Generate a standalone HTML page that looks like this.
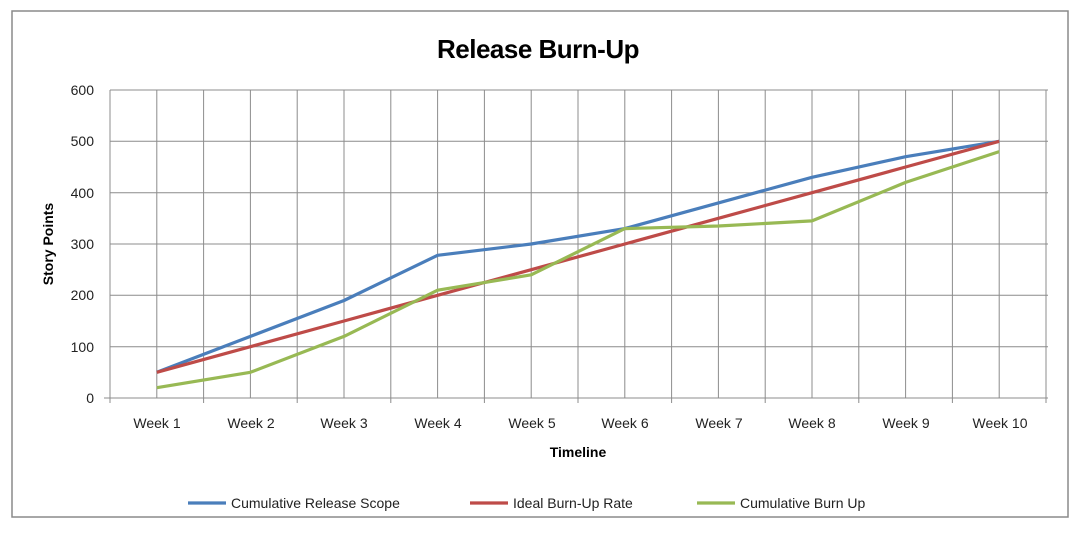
<!DOCTYPE html>
<html><head><meta charset="utf-8"><style>
html,body{margin:0;padding:0;background:#fff;}
svg{display:block;font-family:"Liberation Sans","DejaVu Sans",sans-serif;}
</style></head><body>
<svg width="1076" height="539" viewBox="0 0 1076 539" xmlns="http://www.w3.org/2000/svg">
<rect x="0" y="0" width="1076" height="539" fill="#fff"/>
<rect x="12" y="11" width="1056" height="506" fill="#fff" stroke="#8a8a8a" stroke-width="1.5"/>
<text x="538" y="58" text-anchor="middle" font-size="26" font-weight="bold" fill="#000" letter-spacing="-0.5">Release Burn-Up</text>
<g stroke="#8c8c8c" stroke-width="1">
<line x1="110" y1="90" x2="1048" y2="90"/>
<line x1="110" y1="141.3" x2="1048" y2="141.3"/>
<line x1="110" y1="192.7" x2="1048" y2="192.7"/>
<line x1="110" y1="244" x2="1048" y2="244"/>
<line x1="110" y1="295.3" x2="1048" y2="295.3"/>
<line x1="110" y1="346.7" x2="1048" y2="346.7"/>
<line x1="104" y1="398" x2="1048" y2="398"/>
<line x1="110" y1="90" x2="110" y2="403"/>
<line x1="156.8" y1="90" x2="156.8" y2="398"/>
<line x1="203.6" y1="90" x2="203.6" y2="403"/>
<line x1="250.4" y1="90" x2="250.4" y2="398"/>
<line x1="297.2" y1="90" x2="297.2" y2="403"/>
<line x1="344" y1="90" x2="344" y2="398"/>
<line x1="390.8" y1="90" x2="390.8" y2="403"/>
<line x1="437.6" y1="90" x2="437.6" y2="398"/>
<line x1="484.4" y1="90" x2="484.4" y2="403"/>
<line x1="531.2" y1="90" x2="531.2" y2="398"/>
<line x1="578" y1="90" x2="578" y2="403"/>
<line x1="624.8" y1="90" x2="624.8" y2="398"/>
<line x1="671.6" y1="90" x2="671.6" y2="403"/>
<line x1="718.4" y1="90" x2="718.4" y2="398"/>
<line x1="765.2" y1="90" x2="765.2" y2="403"/>
<line x1="812" y1="90" x2="812" y2="398"/>
<line x1="858.8" y1="90" x2="858.8" y2="403"/>
<line x1="905.6" y1="90" x2="905.6" y2="398"/>
<line x1="952.4" y1="90" x2="952.4" y2="403"/>
<line x1="999.2" y1="90" x2="999.2" y2="398"/>
<line x1="1046" y1="90" x2="1046" y2="403"/>
</g>
<g font-size="14" fill="#222" text-anchor="end">
<text x="94" y="95">600</text>
<text x="94" y="146">500</text>
<text x="94" y="198">400</text>
<text x="94" y="249">300</text>
<text x="94" y="300">200</text>
<text x="94" y="352">100</text>
<text x="94" y="403">0</text>
</g>
<g font-size="14" fill="#222" text-anchor="middle">
<text x="157" y="428">Week 1</text>
<text x="251" y="428">Week 2</text>
<text x="344" y="428">Week 3</text>
<text x="438" y="428">Week 4</text>
<text x="532" y="428">Week 5</text>
<text x="625" y="428">Week 6</text>
<text x="719" y="428">Week 7</text>
<text x="812" y="428">Week 8</text>
<text x="906" y="428">Week 9</text>
<text x="1000" y="428">Week 10</text>
</g>
<text x="578" y="457" text-anchor="middle" font-size="14" font-weight="bold" fill="#000">Timeline</text>
<text transform="translate(53,244) rotate(-90)" text-anchor="middle" font-size="14" font-weight="bold" fill="#000">Story Points</text>
<g fill="none" stroke-width="3.2" stroke-linejoin="round">
<polyline stroke="#4a7ebb" points="156.8,372.3 250.4,336.4 344,300.5 437.6,255.3 531.2,244 624.8,228.6 718.4,202.9 812,177.3 905.6,156.7 999.2,141.3"/>
<polyline stroke="#be4b48" points="156.8,372.3 250.4,346.7 344,321 437.6,295.3 531.2,269.7 624.8,244 718.4,218.3 812,192.7 905.6,167 999.2,141.3"/>
<polyline stroke="#98b954" points="156.8,387.7 250.4,372.3 344,336.4 437.6,290.2 531.2,274.8 624.8,228.6 718.4,226 812,220.9 905.6,182.4 999.2,151.6"/>
</g>
<g font-size="14" fill="#222">
<line x1="188" y1="503" x2="226" y2="503" stroke="#4a7ebb" stroke-width="3.2"/>
<text x="231" y="508">Cumulative Release Scope</text>
<line x1="470" y1="503" x2="508" y2="503" stroke="#be4b48" stroke-width="3.2"/>
<text x="513" y="508">Ideal Burn-Up Rate</text>
<line x1="697" y1="503" x2="735" y2="503" stroke="#98b954" stroke-width="3.2"/>
<text x="740" y="508">Cumulative Burn Up</text>
</g>
</svg>
</body></html>
